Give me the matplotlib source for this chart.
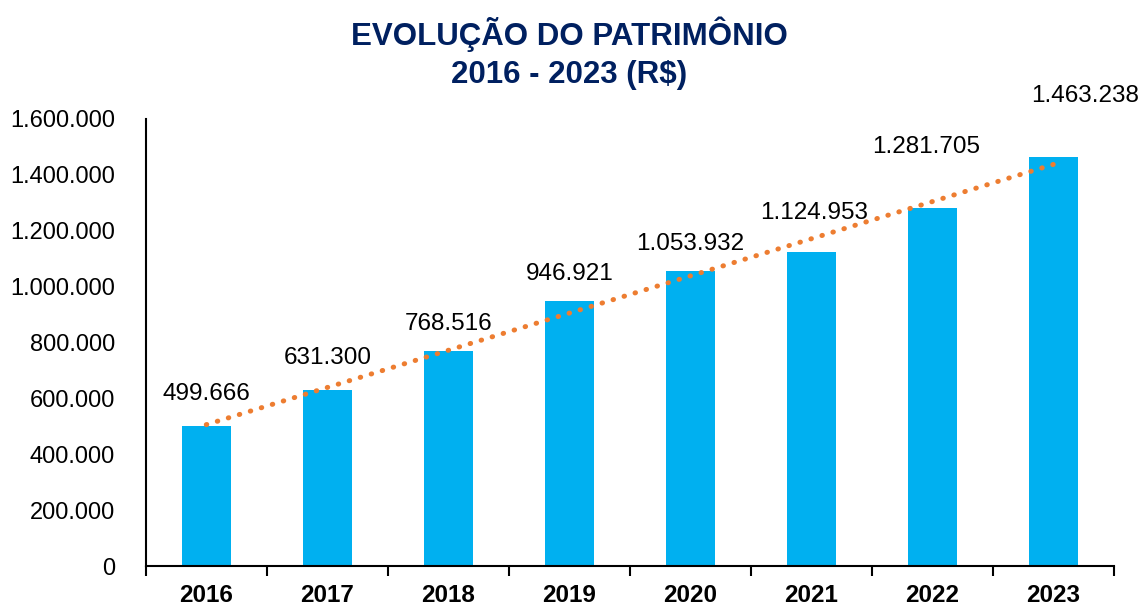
import numpy as np
import matplotlib
matplotlib.use("Agg")
import matplotlib.pyplot as plt
from matplotlib.ticker import FuncFormatter, FixedLocator

plt.rcParams['font.family'] = ['Liberation Sans', 'DejaVu Sans']

anos = ['2016', '2017', '2018', '2019', '2020', '2021', '2022', '2023']
patrimonio = [499666, 631300, 768516, 946921, 1053932, 1124953, 1281705, 1463238]

# label centre offsets in points (dx, dy), as placed in the original
label_offsets = [(0, 23), (0, 22.5), (0, 19.5), (0, 19.5), (0, 20), (2, 28), (-4.5, 44), (23, 44)]


def br_fmt(v, pos=None):
    return f"{int(round(v)):,}".replace(",", ".")


fig = plt.figure(figsize=(11.39, 6.06), dpi=100)
ax = fig.add_axes([0.128, 0.066, 0.85, 0.738])

x = np.arange(len(anos))
ax.bar(x, patrimonio, width=0.4, color='#00B0F0', zorder=2)

# linear trend line (like Excel)
coef = np.polyfit(x, patrimonio, 1)
ax.plot(x, np.polyval(coef, x), color='#ED7D31', lw=3.6, linestyle=(0, (0.1, 2.2)),
        dash_capstyle='round', zorder=3)

for xi, v, (dx, dy) in zip(x, patrimonio, label_offsets):
    ax.annotate(br_fmt(v), (xi, v), xytext=(dx, dy), textcoords='offset points',
                ha='center', va='center', fontsize=17.5, color='black')

ax.set_xlim(-0.5, len(anos) - 0.5)
ax.set_ylim(0, 1600000)
ax.set_yticks(np.arange(0, 1600001, 200000))
ax.yaxis.set_major_formatter(FuncFormatter(br_fmt))
ax.tick_params(axis='y', length=0, pad=22, labelsize=17)

ax.xaxis.set_major_locator(FixedLocator(np.arange(-0.5, len(anos), 1.0)))
ax.xaxis.set_major_formatter(FuncFormatter(lambda v, p: ''))
ax.xaxis.set_minor_locator(FixedLocator(x))
ax.set_xticklabels(anos, minor=True)
ax.tick_params(axis='x', which='major', length=7, width=1.5, direction='out')
ax.tick_params(axis='x', which='minor', length=0, pad=13, labelsize=17.5)
for lbl in ax.get_xticklabels(minor=True):
    lbl.set_fontweight('bold')

ax.spines['top'].set_visible(False)
ax.spines['right'].set_visible(False)
ax.spines['left'].set_linewidth(1.5)
ax.spines['bottom'].set_linewidth(1.5)

fig.text(0.5, 0.972, 'EVOLUÇÃO DO PATRIMÔNIO\n2016 - 2023 (R$)', ha='center', va='top',
         fontsize=22.5, fontweight='bold', color='#002060', linespacing=1.33)

fig.savefig('out.png', dpi=100)
